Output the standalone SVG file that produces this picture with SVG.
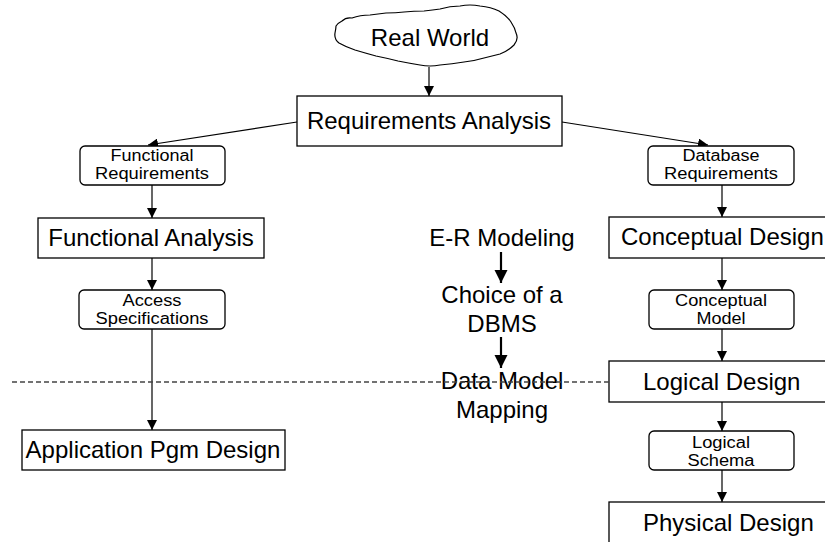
<svg xmlns="http://www.w3.org/2000/svg" width="825" height="542" viewBox="0 0 825 542">
<style>
text{font-family:"Liberation Sans",Arial,sans-serif;fill:#000}
.big{font-size:24px}
.sm{font-size:16px}
.box{fill:#fff;stroke:#000;stroke-width:1.3}
.conn{stroke:#000;stroke-width:1.2;fill:none}
.thick{stroke:#000;stroke-width:2.2;fill:none}
</style>
<defs>
<marker id="ah" viewBox="0 0 10 10" refX="10" refY="5" markerWidth="10" markerHeight="10" markerUnits="userSpaceOnUse" orient="auto">
<path d="M0,0 L10,5 L0,10 z" fill="#000"/>
</marker>
<marker id="ah2" viewBox="0 0 10 10" refX="10" refY="5" markerWidth="6" markerHeight="6" orient="auto">
<path d="M0,0 L10,5 L0,10 z" fill="#000"/>
</marker>
</defs>
<rect width="825" height="542" fill="#fff"/>

<g id="connectors">
<line class="conn" x1="429" y1="67" x2="429" y2="96" marker-end="url(#ah)"/>
<line class="conn" x1="297" y1="122" x2="148" y2="145" marker-end="url(#ah)"/>
<line class="conn" x1="562" y1="122" x2="708" y2="145" marker-end="url(#ah)"/>
<line class="conn" x1="152" y1="185" x2="152" y2="218" marker-end="url(#ah)"/>
<line class="conn" x1="152" y1="258" x2="152" y2="290" marker-end="url(#ah)"/>
<line class="conn" x1="152" y1="329" x2="152" y2="430" marker-end="url(#ah)"/>
<line class="conn" x1="722" y1="185" x2="722" y2="217" marker-end="url(#ah)"/>
<line class="conn" x1="722" y1="258" x2="722" y2="290" marker-end="url(#ah)"/>
<line class="conn" x1="722" y1="329" x2="722" y2="361" marker-end="url(#ah)"/>
<line class="conn" x1="722" y1="402" x2="722" y2="431" marker-end="url(#ah)"/>
<line class="conn" x1="722" y1="470" x2="722" y2="502" marker-end="url(#ah)"/>
<line class="thick" x1="501" y1="252" x2="501" y2="283" marker-end="url(#ah2)"/>
<line class="thick" x1="501" y1="337" x2="501" y2="368" marker-end="url(#ah2)"/>
</g>

<g id="real-world">
<path d="M342,21 Q346,17 352,18 Q360,15 370,15 Q378,14 386,13 Q396,13 404,12 Q414,11 424,11 Q433,10 440,9 Q450,6 460,6 Q470,4 480,6 Q491,7 499,11 Q507,16 511,22 Q515,28 516,33 Q519,39 514,45 Q508,51 500,54 Q492,56 484,58 Q474,61 464,62 Q452,64 440,65 Q430,67 420,65 Q408,63 398,61 Q386,58 376,56 Q365,53 355,50 Q346,47 339,43 Q334,39 335,33 Q336,28 336,26 Q338,23 342,21 z" fill="#fff" stroke="#000" stroke-width="1.2" stroke-linejoin="round"/>
<text class="big" x="430" y="46" text-anchor="middle">Real World</text>
</g>

<g id="requirements-analysis">
<rect class="box" x="297" y="96" width="265" height="50"/>
<text class="big" x="429" y="129" text-anchor="middle">Requirements Analysis</text>
</g>

<g id="functional-requirements">
<rect class="box" x="80" y="146" width="145" height="39" rx="5"/>
<text class="sm" x="152" y="161" text-anchor="middle" textLength="83" lengthAdjust="spacingAndGlyphs">Functional</text>
<text class="sm" x="152" y="179" text-anchor="middle" textLength="114" lengthAdjust="spacingAndGlyphs">Requirements</text>
</g>

<g id="database-requirements">
<rect class="box" x="648" y="146" width="146" height="39" rx="5"/>
<text class="sm" x="721" y="161" text-anchor="middle" textLength="77" lengthAdjust="spacingAndGlyphs">Database</text>
<text class="sm" x="721" y="179" text-anchor="middle" textLength="114" lengthAdjust="spacingAndGlyphs">Requirements</text>
</g>

<g id="functional-analysis">
<rect class="box" x="38" y="218" width="226" height="40"/>
<text class="big" x="151" y="246" text-anchor="middle">Functional Analysis</text>
</g>

<g id="access-specifications">
<rect class="box" x="79" y="290" width="146" height="39" rx="5"/>
<text class="sm" x="152" y="306" text-anchor="middle" textLength="59" lengthAdjust="spacingAndGlyphs">Access</text>
<text class="sm" x="152" y="324" text-anchor="middle" textLength="113" lengthAdjust="spacingAndGlyphs">Specifications</text>
</g>

<g id="application-pgm-design">
<rect class="box" x="22" y="430" width="263" height="40"/>
<text class="big" x="153" y="458" text-anchor="middle">Application Pgm Design</text>
</g>

<g id="conceptual-design">
<rect class="box" x="609" y="217" width="230" height="41"/>
<text class="big" x="621" y="245">Conceptual Design</text>
</g>

<g id="conceptual-model">
<rect class="box" x="649" y="290" width="145" height="39" rx="5"/>
<text class="sm" x="721" y="306" text-anchor="middle" textLength="92" lengthAdjust="spacingAndGlyphs">Conceptual</text>
<text class="sm" x="721" y="324" text-anchor="middle" textLength="49" lengthAdjust="spacingAndGlyphs">Model</text>
</g>

<g id="logical-design">
<rect class="box" x="609" y="361" width="230" height="41"/>
<text class="big" x="643" y="390">Logical Design</text>
</g>

<g id="logical-schema">
<rect class="box" x="649" y="431" width="145" height="39" rx="5"/>
<text class="sm" x="721" y="448" text-anchor="middle" textLength="58" lengthAdjust="spacingAndGlyphs">Logical</text>
<text class="sm" x="721" y="466" text-anchor="middle" textLength="67" lengthAdjust="spacingAndGlyphs">Schema</text>
</g>

<g id="physical-design">
<rect class="box" x="609" y="502" width="230" height="50"/>
<text class="big" x="643" y="531">Physical Design</text>
</g>

<g id="er-modeling">
<text class="big" x="502" y="246" text-anchor="middle">E-R Modeling</text>
</g>
<g id="choice-dbms">
<text class="big" x="502" y="303" text-anchor="middle">Choice of a</text>
<text class="big" x="502" y="332" text-anchor="middle">DBMS</text>
</g>
<g id="data-model-mapping">
<text class="big" x="502" y="389" text-anchor="middle">Data Model</text>
<text class="big" x="502" y="418" text-anchor="middle">Mapping</text>
</g>

<g id="separator">
<line x1="12" y1="382" x2="609" y2="382" stroke="#444" stroke-width="1.3" stroke-dasharray="5,3"/>
</g>
</svg>
